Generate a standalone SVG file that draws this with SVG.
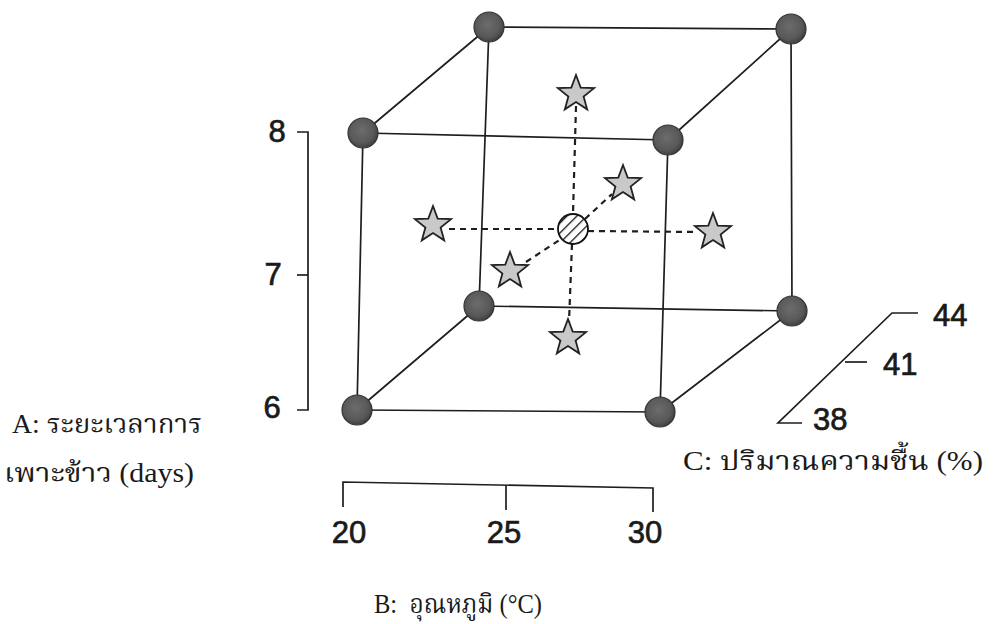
<svg xmlns="http://www.w3.org/2000/svg" width="996" height="624" viewBox="0 0 996 624">
<style>
.edge{stroke:#1e1e1e;stroke-width:1.7;fill:none;stroke-linecap:round}
.dash{stroke:#1e1e1e;stroke-width:2.2;fill:none;stroke-dasharray:6 5}
.axis{stroke:#1e1e1e;stroke-width:1.7;fill:none}
.num{font-family:"Liberation Sans",Arial,sans-serif;font-size:31px;fill:#1a1a1a;stroke:#1a1a1a;stroke-width:0.7}
.lab{font-family:"Liberation Serif","Noto Serif Thai","Noto Sans Thai",serif;font-size:27px;fill:#1a1a1a}
.sph{fill:url(#sg);stroke:#333;stroke-width:1.2}
.star{fill:#c9c9c9;stroke:#222;stroke-width:1.8;stroke-linejoin:miter}
</style>
<defs>
<radialGradient id="sg" cx="0.45" cy="0.42" r="0.6">
<stop offset="0" stop-color="#6c6c6c"/>
<stop offset="0.7" stop-color="#585858"/>
<stop offset="1" stop-color="#3c3c3c"/>
</radialGradient>
<pattern id="hatch" patternUnits="userSpaceOnUse" width="7" height="7" patternTransform="rotate(45)">
<rect width="7" height="7" fill="#fff"/>
<line x1="0" y1="0" x2="0" y2="7" stroke="#111" stroke-width="2.6"/>
</pattern>
<path id="star" d="M0,-19 L4.70,-6.47 L18.07,-5.87 L7.61,2.47 L11.17,15.37 L0,8 L-11.17,15.37 L-7.61,2.47 L-18.07,-5.87 L-4.70,-6.47 Z"/>
</defs>
<rect width="996" height="624" fill="#fff"/>
<g id="connectors">
<line class="edge" x1="489" y1="27" x2="791" y2="29"/>
<line class="edge" x1="489" y1="27" x2="363" y2="133"/>
<line class="edge" x1="791" y1="29" x2="668" y2="140"/>
<line class="edge" x1="363" y1="133" x2="668" y2="140"/>
<line class="edge" x1="363" y1="133" x2="357" y2="410"/>
<line class="edge" x1="489" y1="27" x2="479" y2="306"/>
<line class="edge" x1="668" y1="140" x2="660" y2="412"/>
<line class="edge" x1="791" y1="29" x2="792" y2="311"/>
<line class="edge" x1="479" y1="306" x2="792" y2="311"/>
<line class="edge" x1="357" y1="410" x2="660" y2="412"/>
<line class="edge" x1="357" y1="410" x2="479" y2="306"/>
<line class="edge" x1="660" y1="412" x2="792" y2="311"/>
<line class="dash" x1="576" y1="106" x2="573" y2="214"/>
<line class="dash" x1="572" y1="244" x2="569" y2="322"/>
<line class="dash" x1="449" y1="229" x2="558" y2="229"/>
<line class="dash" x1="588" y1="231" x2="697" y2="232"/>
<line class="dash" x1="526" y1="262" x2="561" y2="239"/>
<line class="dash" x1="585" y1="219" x2="612" y2="194"/>
</g>
<g id="v-btl"><circle class="sph" cx="489" cy="27" r="15"/></g>
<g id="v-btr"><circle class="sph" cx="791" cy="29" r="15"/></g>
<g id="v-ftl"><circle class="sph" cx="363" cy="133" r="15"/></g>
<g id="v-ftr"><circle class="sph" cx="668" cy="140" r="15"/></g>
<g id="v-bbl"><circle class="sph" cx="479" cy="306" r="15"/></g>
<g id="v-bbr"><circle class="sph" cx="792" cy="311" r="15"/></g>
<g id="v-fbl"><circle class="sph" cx="357" cy="410" r="15"/></g>
<g id="v-fbr"><circle class="sph" cx="660" cy="412" r="15"/></g>
<g id="center"><circle cx="573" cy="229" r="15" fill="url(#hatch)" stroke="#111" stroke-width="1.8"/></g>
<g id="s-top"><use href="#star" class="star" x="576" y="94"/></g>
<g id="s-back"><use href="#star" class="star" x="623" y="184"/></g>
<g id="s-left"><use href="#star" class="star" x="433" y="225"/></g>
<g id="s-right"><use href="#star" class="star" x="713" y="232"/></g>
<g id="s-front"><use href="#star" class="star" x="510" y="271"/></g>
<g id="s-bottom"><use href="#star" class="star" x="568" y="338"/></g>
<g id="axis-a">
<polyline class="axis" points="297,132 308,132 308,410 297,410"/>
<line class="axis" x1="297" y1="275" x2="308" y2="275"/>
<text class="num" x="277" y="142" text-anchor="middle">8</text>
<text class="num" x="273" y="285" text-anchor="middle">7</text>
<text class="num" x="272" y="418" text-anchor="middle">6</text>
<text class="lab" x="12" y="433" textLength="190" lengthAdjust="spacingAndGlyphs">A: ระยะเวลาการ</text>
<text class="lab" x="4" y="482" textLength="190" lengthAdjust="spacingAndGlyphs">เพาะข้าว (days)</text>
</g>
<g id="axis-b">
<polyline class="axis" points="343,507 343,482 653,488 653,512"/>
<line class="axis" x1="506" y1="485" x2="506" y2="510"/>
<text class="num" x="349" y="543" text-anchor="middle">20</text>
<text class="num" x="504" y="543" text-anchor="middle">25</text>
<text class="num" x="645" y="543" text-anchor="middle">30</text>
<text class="lab" x="374" y="613" textLength="168" lengthAdjust="spacingAndGlyphs" xml:space="preserve">B:  อุณหภูมิ (°C)</text>
</g>
<g id="axis-c">
<polyline class="axis" points="802,423 778,423 892,313 918,313"/>
<line class="axis" x1="845" y1="362" x2="867" y2="362"/>
<text class="num" x="933" y="326">44</text>
<text class="num" x="883" y="375">41</text>
<text class="num" x="813" y="430">38</text>
<text class="lab" x="683" y="470" textLength="300" lengthAdjust="spacingAndGlyphs">C: ปริมาณความชื้น (%)</text>
</g>
</svg>
